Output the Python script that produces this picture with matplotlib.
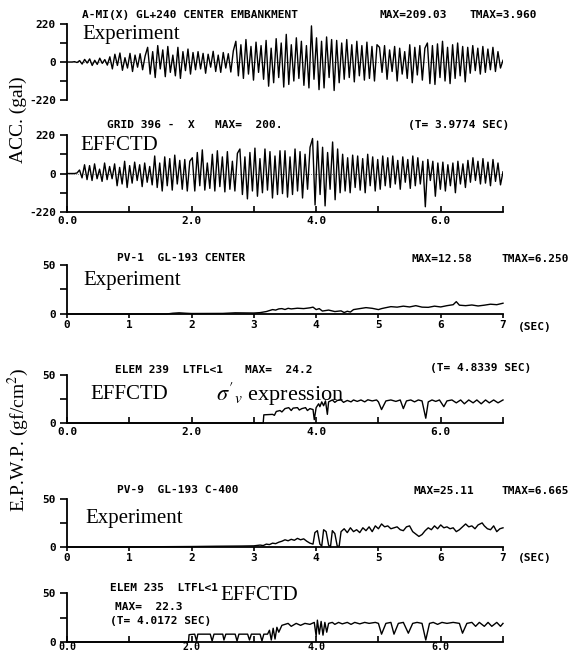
import numpy as np
import matplotlib.pyplot as plt

plt.rcParams['mathtext.fontset'] = 'stix'

W, H = 587, 655

# acceleration (gal), evenly sampled over 0-7 sec
acc_exp = [0, 0, 0, 2, -3,
           8, -12, 15, -6, 18, -20, 10, -14, 22, -8, 14, -18,
           30, -40, 45, -20, 52, -48, 25, -35, 50, -55, 40, -30, 48, -45, 35,
           85, -70, 60, -90, 95, -40, 70, -85,
           90, -60, 40, -80, 85, -95, 60, -50, 75, -70, 55, -45,
           60, -40, 50, -65, 45, -30, 62, -55, 40, -60, 55, -35, 48, -58, 65,
           120, -80, 100, -95, 130, -70, 90, -105, 115, -60, 95, -100,
           125, -140, 80, -120, 135, -90, 110, -145, 160, -130, 100, -110, 140, -95,
           120, -135, 95, -150, 209, -100,
           140, -160, 120, -150, 145, -90, 130, -165, 125, -120,
           110, -100, 130, -90, 100, -115, 120, -80, 95, -105, 115, -95, 90, -110, 100,
           85, -60, 95, -100, 70, -55, 90, -110, 80, -70, 60, -95, 100, -120, 85, -75, 95, -105, 80,
           110, -125, 95, -130, 105, -90, 120, -110, 85, -125, 100, -95, 110, -80, 90, -115,
           85, -65, 95, -50, 80, -70, 90, -60, 75, -45, 85, -55, 60, -35, 10]

acc_eff = [0, 0, 0, 0, 3,
           20, -25, 50, -35, 45, -40, 55, -30, 25, -45, 60, -35, 40, -30,
           55, -70, 35, -60, 70, -80, 45, -55, 65, -40, 50, -75, 60, -50, 40, -65,
           100, -80, 60, -100, 95, -70, 85, -95, 105, -60, 75, -90, 80, -100, 70,
           90, -100, 120, -70, 135, -95, 60, -85, 110, -100, 130, -75, 95, -105, 125, -90, 70, -100, 115,
           140, -120, 95, -145, 120, -100, 145, -130, 85, -110, 140, -95, 125, -140, 100, -120, 130,
           -115, 130, -135, 95, -120, 140, -100, 125, -140, 110, -90, 150, 200,
           -180, 185, -120, 150, -185, 120, -90, 180, -150, 140, -110,
           110, -100, 90, -110, 105, -80, 100, -95, 85, -110, 110, -70, 95, -100, 80, -90, 100,
           -70, 90, -80, 100, -60, 75, -90, 95, -50, 80, -85, 100, -70, 90, -60, 70,
           -190, 80, -40,
           70, -130, 60, -90, 65, -100, 50, -70, 60, -110, 70, -60, 55, -80, 75, -50,
           90, -40, 70, -60, 85, -55, 65, -70, 80, -45, 60, -65, 10]

# pore water pressure (gf/cm2) at read-off times
pv1_t = [0, 1.6, 1.7, 1.8, 1.9, 2.0, 2.5, 2.7, 3.0, 3.1, 3.2, 3.3, 3.35, 3.4, 3.45, 3.5, 3.55, 3.6,
         3.7, 3.8, 3.9, 3.95, 4.0, 4.05, 4.1, 4.2, 4.3, 4.4, 4.45, 4.5, 4.55, 4.6, 4.7, 4.8, 4.9,
         5.0, 5.05, 5.1, 5.2, 5.3, 5.4, 5.5, 5.6, 5.7, 5.8, 5.9, 6.0, 6.1, 6.2, 6.25, 6.3, 6.4,
         6.5, 6.6, 6.7, 6.8, 6.9, 7.0]
pv1_v = [0, 0, 0.8, 1.2, 0.8, 0.5, 0.6, 1.2, 1.0, 1.4, 2.5, 4.5, 4, 5.2, 5.5, 4.6, 5.8, 5.2,
         5.9, 5.5, 6.3, 7, 4.5, 5.5, 3, 4, 2.5, 3.2, 1.5, 2.8, 2, 4.5, 5.5, 6.5, 5.8,
         4.5, 5.5, 6.2, 7.5, 7, 8, 7.2, 8.5, 7, 6.8, 8, 7.2, 8.5, 9.5, 12.6, 9, 8.5,
         9.2, 8.2, 9, 10, 9.5, 11]

el239_t = [0, 3.15, 3.16, 3.3, 3.33, 3.36, 3.42, 3.45, 3.5, 3.56, 3.6, 3.63, 3.7, 3.73, 3.77,
           3.83, 3.86, 3.9, 3.95, 3.97, 4.0, 4.04, 4.06, 4.09, 4.12, 4.15, 4.18, 4.2, 4.26,
           4.3, 4.34, 4.4, 4.44, 4.5, 4.56, 4.6, 4.66, 4.72, 4.78, 4.83, 4.9, 4.97, 5.0, 5.05,
           5.12, 5.2, 5.28, 5.35, 5.4, 5.45, 5.52, 5.58, 5.64, 5.7, 5.76, 5.8, 5.86, 5.92,
           5.98, 6.05, 6.1, 6.18, 6.25, 6.32, 6.38, 6.45, 6.52, 6.58, 6.65, 6.72, 6.78, 6.85,
           6.92, 7.0]
el239_v = [0, 0, 8.5, 9, 8, 12, 13, 11.5, 15, 16, 13, 15.5, 16, 13.5, 15,
           16, 13, 15, 14, 3.5, 16, 20, 17, 22, 18, 23, 9, 22, 24,
           21.5, 23.5, 24, 21.5, 23.5, 22, 24, 22.5, 24, 22, 24.2, 23, 24, 22, 14,
           23, 24, 22.5, 24, 15, 23, 24, 22, 24, 23, 5, 22, 24, 22.5,
           24, 17, 23, 24, 21, 24, 20, 24, 21, 24, 20, 24, 21, 24,
           21, 24]

pv9_t = [0, 1.0, 1.5, 2.0, 2.4, 2.8, 3.0, 3.1, 3.15, 3.2, 3.25, 3.3, 3.35, 3.4, 3.45, 3.5, 3.55,
         3.6, 3.65, 3.7, 3.75, 3.8, 3.85, 3.9, 3.95, 3.98, 4.02, 4.06, 4.09, 4.12, 4.16, 4.2,
         4.23, 4.26, 4.3, 4.34, 4.37, 4.4, 4.45, 4.5, 4.55, 4.6, 4.65, 4.7, 4.75, 4.8, 4.85,
         4.9, 4.95, 5.0, 5.05, 5.1, 5.15, 5.2, 5.3, 5.35, 5.4, 5.45, 5.5, 5.55, 5.65, 5.7,
         5.75, 5.8, 5.85, 5.9, 5.95, 6.0, 6.05, 6.1, 6.15, 6.2, 6.25, 6.3, 6.35, 6.4, 6.45,
         6.5, 6.55, 6.6, 6.665, 6.7, 6.75, 6.8, 6.85, 6.9, 6.95, 7.0]
pv9_v = [0, 0, 0.3, 0.5, 0.8, 1, 1.2, 2, 1.5, 3, 2.5, 4, 3.5, 5, 6, 7.5, 6.5,
         8, 7, 9, 7.5, 8.5, 6, 4, 3, 15, 17, 3, 1, 18, 16, 2,
         0, 17, 14, 0.5, 1, 16, 19, 15, 20, 16, 18, 15, 20, 17, 21,
         16, 22, 19, 24, 21, 22, 19, 21, 18, 17, 21, 22, 16, 11, 13,
         17, 20, 18, 22, 19, 23, 20, 21, 19, 20, 16, 18, 21, 24, 21,
         22, 19, 23, 25.1, 22, 19, 18, 22, 16, 19, 20]

el235_t = [0, 1.95, 1.96, 2.05, 2.08, 2.1, 2.3, 2.33, 2.36, 2.5, 2.52, 2.55, 2.7, 2.73, 2.76,
           2.9, 2.93, 2.96, 3.1, 3.13, 3.16, 3.22, 3.25, 3.28, 3.31, 3.34, 3.37, 3.4, 3.45,
           3.55, 3.6, 3.68, 3.75, 3.82, 3.9, 3.97, 4.0, 4.02, 4.05, 4.08, 4.11, 4.14, 4.17,
           4.2, 4.26, 4.3, 4.36, 4.42, 4.5, 4.56, 4.62, 4.7, 4.78, 4.85, 4.95, 5.0, 5.05,
           5.12, 5.2, 5.25, 5.32, 5.4, 5.48, 5.55, 5.62, 5.7, 5.76, 5.82, 5.88, 5.95, 6.02,
           6.1, 6.2, 6.3, 6.35, 6.42, 6.5, 6.56, 6.62, 6.7, 6.76, 6.82, 6.9, 6.96, 7.0]
el235_v = [0, 0, 7.5, 8, 1, 8, 8, 1, 8, 8, 2, 8, 8, 1, 8,
           8, 2, 8, 8, 1, 8, 8, 12, 2, 14, 3, 15, 10, 17,
           19, 16, 19, 17, 19, 18, 20, 6, 22.3, 8, 21, 7, 20, 10,
           19, 20, 18, 20, 18.5, 20, 18, 20, 18.5, 20, 19, 20, 19, 8,
           19, 20, 8, 19, 20, 9, 19, 20, 19, 2, 19, 20, 18, 20,
           19, 20, 19, 9, 19, 20, 16, 20, 16, 20, 16, 20, 16, 19]

fig = plt.figure(figsize=(W / 100, H / 100), dpi=100)
FS = 8
mono = dict(family='DejaVu Sans Mono', weight='bold', fontsize=FS)
serif = dict(family='Liberation Serif', fontsize=15)
tickfont = {'family': 'DejaVu Sans Mono', 'weight': 'bold', 'size': FS}


def rect(top, bottom, x0=67, x1=503):
    return [x0 / W, 1 - bottom / H, (x1 - x0) / W, (bottom - top) / H]


def txt(x, y, s, style=mono, **kw):
    fig.text(x / W, 1 - y / H, s, va='center', ha='left', **style, **kw)


def base(ax, ymax, ymin):
    ax.set_xlim(0, 7)
    ax.set_ylim(ymin, ymax)
    for s in ['top', 'right']:
        ax.spines[s].set_visible(False)
    for s in ['left', 'bottom']:
        ax.spines[s].set_linewidth(1.3)
    ax.tick_params(axis='y', direction='out', length=5, width=1.2, pad=3)
    for lab in ax.get_yticklabels():
        lab.set_fontproperties(tickfont)
    ax.patch.set_alpha(0)


def acc_axis(ax):
    ax.set_yticks([-220, -110, 0, 110, 220], ['-220', '', '0', '', '220'])
    base(ax, 220, -220)
    ax.axhline(0, color='k', lw=0.5, ls=(0, (1, 2)))


def pwp_axis(ax):
    ax.set_yticks([0, 25, 50], ['0', '', '50'])
    base(ax, 50, 0)


def time_ticks(ax, integer, pad=3):
    if integer:
        ax.set_xticks(range(8), [str(i) for i in range(8)])
        ax.tick_params(axis='x', direction='out', length=3, width=1.2, pad=1)
    else:
        ax.set_xticks(range(8), ['0.0', '', '2.0', '', '4.0', '', '6.0', ''])
        ax.tick_params(axis='x', direction='in', length=4, width=1.2, pad=pad)
    for lab in ax.get_xticklabels():
        lab.set_fontproperties(tickfont)


# panel 1: measured acceleration
ax1 = fig.add_axes(rect(24, 100))
t1 = np.linspace(0, 7, len(acc_exp))
ax1.plot(t1, acc_exp, color='k', lw=1.0)
acc_axis(ax1)
ax1.spines['bottom'].set_visible(False)
ax1.set_xticks([])

# panel 2: computed acceleration
ax2 = fig.add_axes(rect(135, 212))
t2 = np.linspace(0, 7, len(acc_eff))
ax2.plot(t2, acc_eff, color='k', lw=1.0)
acc_axis(ax2)
time_ticks(ax2, False)

# panel 3: PV-1 measured
ax3 = fig.add_axes(rect(265, 314))
ax3.plot(pv1_t, pv1_v, color='k', lw=1.0, clip_on=False)
pwp_axis(ax3)
time_ticks(ax3, True)

# panel 4: ELEM 239 computed
ax4 = fig.add_axes(rect(375, 423))
ax4.plot(el239_t, el239_v, color='k', lw=1.0, clip_on=False)
pwp_axis(ax4)
time_ticks(ax4, False)

# panel 5: PV-9 measured
ax5 = fig.add_axes(rect(499, 547))
ax5.plot(pv9_t, pv9_v, color='k', lw=1.0, clip_on=False)
pwp_axis(ax5)
time_ticks(ax5, True)

# panel 6: ELEM 235 computed
ax6 = fig.add_axes(rect(593, 642))
ax6.plot(el235_t, el235_v, color='k', lw=1.0, clip_on=False)
pwp_axis(ax6)
time_ticks(ax6, False, pad=0)
for lab in ax6.get_xticklabels():
    lab.set_fontsize(7.2)

# headers
txt(82, 15, 'A-MI(X) GL+240 CENTER EMBANKMENT')
txt(380, 15, 'MAX=209.03')
txt(470, 15, 'TMAX=3.960')
txt(82, 34, 'Experiment', serif)

txt(107, 125, 'GRID 396 -  X   MAX=  200.')
txt(408, 125, '(T= 3.9774 SEC)')
txt(80, 145, 'EFFCTD', serif)

txt(117, 258, 'PV-1  GL-193 CENTER')
txt(412, 259, 'MAX=12.58')
txt(502, 259, 'TMAX=6.250')
txt(83, 280, 'Experiment', serif)
txt(518, 327, '(SEC)')

txt(115, 370, 'ELEM 239  LTFL<1')
txt(245, 370, 'MAX=  24.2')
txt(430, 368, '(T= 4.8339 SEC)')
txt(90, 394, 'EFFCTD', serif)
txt(216, 394, r"$\sigma'_{v}$ expression", dict(family='Liberation Serif', fontsize=16))

txt(117, 490, 'PV-9  GL-193 C-400')
txt(413, 491, 'MAX=25.11')
txt(502, 491, 'TMAX=6.665')
txt(85, 518, 'Experiment', serif)
txt(518, 558, '(SEC)')

txt(110, 588, 'ELEM 235  LTFL<1')
txt(115, 607, 'MAX=  22.3')
txt(110, 621, '(T= 4.0172 SEC)')
txt(220, 596, 'EFFCTD', serif)

fig.text(18 / W, 1 - 120 / H, 'ACC. (gal)', rotation=90, ha='center', va='center',
         family='Liberation Serif', fontsize=14)
fig.text(18 / W, 1 - 440 / H, 'E.P.W.P. (gf/cm$^2$)', rotation=90, ha='center', va='center',
         family='Liberation Serif', fontsize=14)

fig.savefig('out.png', dpi=100)
